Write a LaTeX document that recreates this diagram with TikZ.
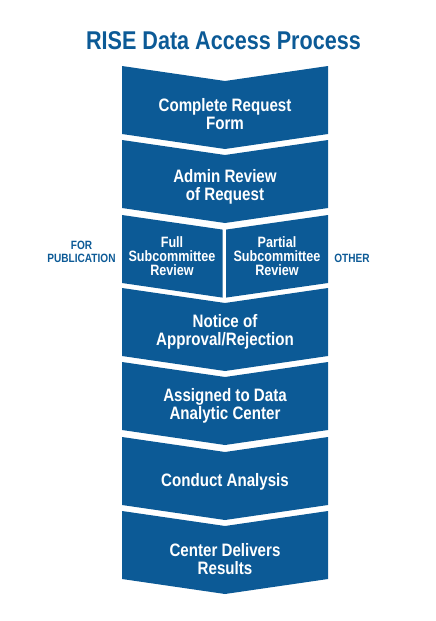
\documentclass[tikz,border=0pt]{standalone}
\usepackage{fontspec}
\setmainfont[FakeStretch=0.84]{Liberation Sans}
\definecolor{riseblue}{RGB}{12,90,150}
\begin{document}
\begin{tikzpicture}[x=1pt,y=-1pt,
  chev/.style={fill=riseblue},
  boxtext/.style={text=white,font=\fontsize{18}{18}\selectfont\bfseries,align=center,inner sep=0pt},
  subtext/.style={text=white,font=\fontsize{15}{14}\selectfont\bfseries,align=center,inner sep=0pt},
  sidetext/.style={text=riseblue,font=\fontsize{12}{13}\selectfont\bfseries,align=center,inner sep=0pt}]
\useasboundingbox (0,0) rectangle (436,621);
\node[text=riseblue,font=\fontsize{25.7}{26}\selectfont\bfseries,inner sep=0pt,anchor=base] (title) at (223.5,49) {RISE Data Access Process};
% chevrons
\foreach \t in {66,140,288,362,437,511}{
  \fill[chev] (122,\t) -- (225,\t+15) -- (328,\t) -- (328,\t+68) -- (225,\t+83) -- (122,\t+68) -- cycle;
}
% subcommittee boxes
\fill[chev] (122,215) -- (222.5,229.6) -- (222.5,297.6) -- (122,283) -- cycle;
\fill[chev] (226,229.6) -- (328,215) -- (328,283) -- (226,297.6) -- cycle;
\node[boxtext] (s1) at (225,114) {Complete Request\\Form};
\node[boxtext] (s2) at (225,187) {Admin Review\\of Request};
\node[subtext] (s3a) at (172,256.5) {Full\\Subcommittee\\Review};
\node[subtext] (s3b) at (277,256.5) {Partial\\Subcommittee\\Review};
\node[boxtext] (s4) at (225,331.5) {Notice of\\Approval/Rejection};
\node[boxtext] (s5) at (225,406) {Assigned to Data\\Analytic Center};
\node[boxtext] (s6) at (225,482) {Conduct Analysis};
\node[boxtext] (s7) at (225,559.5) {Center Delivers\\Results};
\node[sidetext,anchor=base] (pub) at (81.5,262) {FOR\\PUBLICATION};
\node[sidetext,anchor=base] (oth) at (352,262) {OTHER};
\end{tikzpicture}
\end{document}
